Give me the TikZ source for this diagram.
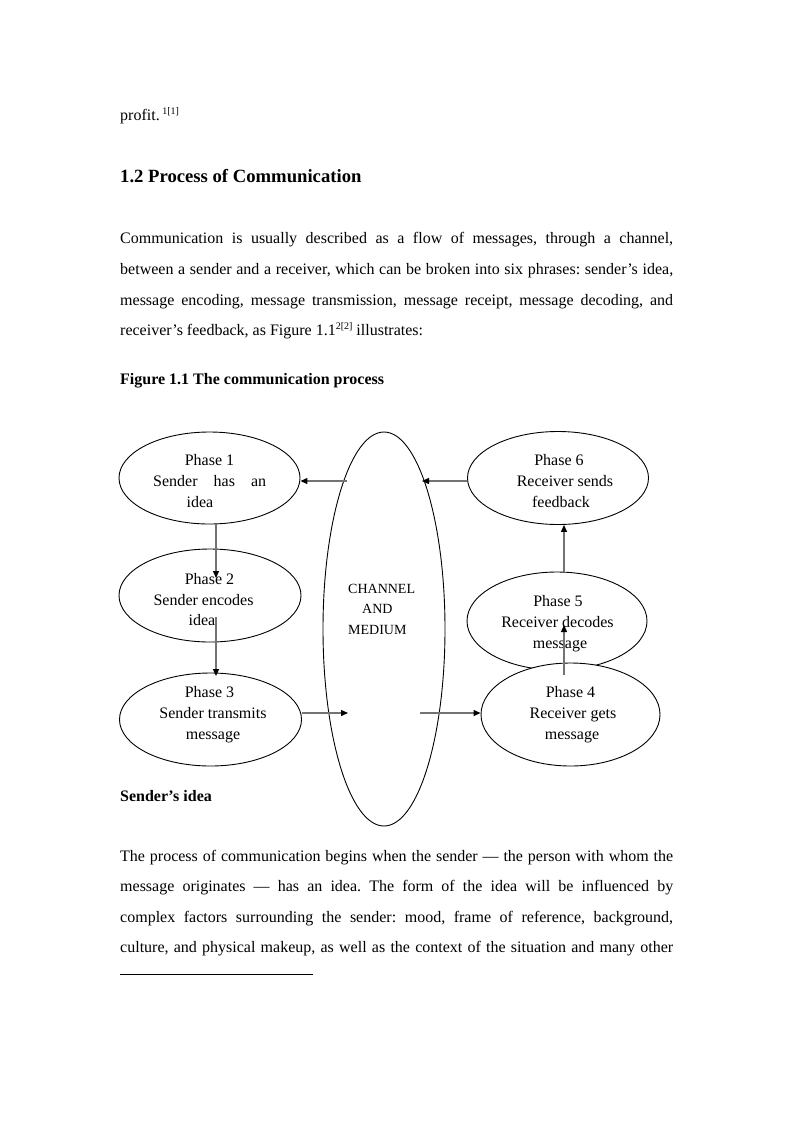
\documentclass[tikz,border=0pt]{standalone}
\usepackage{fontspec}
\setmainfont{Liberation Serif}
\usetikzlibrary{shapes.geometric,arrows.meta}
\newcommand{\jline}[1]{\makebox[553pt][s]{#1}}
\newcommand{\supsm}[1]{\raisebox{6pt}{\fontsize{10}{10}\selectfont #1}}
\begin{document}
\frenchspacing
\begin{tikzpicture}[x=1pt,y=-1pt,
  phase/.style={ellipse,draw=black,line width=0.9pt,inner sep=0pt,fill=white},
  lbl/.style={inner sep=0pt,anchor=base,font=\fontsize{16}{19}\selectfont},
  chl/.style={inner sep=0pt,anchor=base west,font=\fontsize{14}{17}\selectfont},
  body/.style={inner sep=0pt,anchor=base west,font=\fontsize{16}{19}\selectfont\frenchspacing},
  head/.style={inner sep=0pt,anchor=base west,font=\fontsize{18.67}{22}\selectfont\bfseries},
  figcap/.style={inner sep=0pt,anchor=base west,font=\fontsize{16}{19}\selectfont\bfseries},
  conn/.style={draw=black!55,line width=1.3pt,-{Triangle[length=7pt,width=6pt,color=black]}}]
\useasboundingbox[fill=white] (0,0) rectangle (793,1122);

% page text
\node[body] (t0) at (120,120) {profit.\,\supsm{1[1]}};
\node[head] (h1) at (120,182) {1.2 Process of Communication};
\node[body] (p1a) at (120,243) {\jline{Communication is usually described as a flow of messages, through a channel,}};
\node[body] (p1b) at (120,274) {\jline{between a sender and a receiver, which can be broken into six phrases: sender’s idea,}};
\node[body] (p1c) at (120,305) {\jline{message encoding, message transmission, message receipt, message decoding, and}};
\node[body] (p1d) at (120,335) {receiver’s feedback, as Figure 1.1\supsm{2[2]} illustrates:};
\node[figcap] (fc) at (120,384) {Figure 1.1 The communication process};
\node[figcap] (si) at (120,801) {Sender’s idea};
\node[body] (p2a) at (120,861) {\jline{The process of communication begins when the sender — the person with whom the}};
\node[body] (p2b) at (120,891) {\jline{message originates — has an idea. The form of the idea will be influenced by}};
\node[body] (p2c) at (120,922) {\jline{complex factors surrounding the sender: mood, frame of reference, background,}};
\node[body] (p2d) at (120,952) {\jline{culture, and physical makeup, as well as the context of the situation and many other}};
\draw[line width=0.8pt] (120,974) -- (313,974);

% ellipses
\node[phase,minimum width=181pt,minimum height=92pt] (p1) at (209.5,478) {};
\node[phase,minimum width=182pt,minimum height=93pt] (p2) at (210,595.5) {};
\node[phase,minimum width=182pt,minimum height=93pt] (p3) at (210.5,719.5) {};
\node[phase,minimum width=122pt,minimum height=394pt] (ch) at (384,629) {};
\node[phase,minimum width=181pt,minimum height=93pt] (p6) at (558,478) {};
\node[phase,minimum width=180pt,minimum height=98pt] (p5) at (557,621) {};
\node[phase,minimum width=179pt,minimum height=103pt] (p4) at (570.5,714.5) {};

% phase texts
\node[lbl] (l1a) at (209.5,465) {Phase 1};
\node[lbl,anchor=base west] (l1b) at (153,486) {\makebox[113pt][s]{Sender has an}};
\node[lbl] (l1c) at (200,507) {idea};
\node[lbl] (l2a) at (209.5,584) {Phase 2};
\node[lbl] (l2b) at (203.5,605) {Sender encodes};
\node[lbl] (l2c) at (202,625) {idea};
\node[lbl] (l3a) at (209.5,697) {Phase 3};
\node[lbl] (l3b) at (213,718) {Sender transmits};
\node[lbl] (l3c) at (213,739) {message};
\node[lbl] (l6a) at (559,465) {Phase 6};
\node[lbl] (l6b) at (565,486) {Receiver sends};
\node[lbl] (l6c) at (561,507) {feedback};
\node[lbl] (l5a) at (558,606) {Phase 5};
\node[lbl] (l5b) at (557.5,627) {Receiver decodes};
\node[lbl] (l5c) at (560,648) {message};
\node[lbl] (l4a) at (570.5,697) {Phase 4};
\node[lbl] (l4b) at (573,718) {Receiver gets};
\node[lbl] (l4c) at (572,739) {message};
\node[chl] (c1) at (348,593) {CHANNEL};
\node[chl] (c2) at (362,613) {AND};
\node[chl] (c3) at (348,634) {MEDIUM};

% connectors
\coordinate (ta) at (422,481);
\coordinate (sb) at (347,481);
\coordinate (tc) at (216,578);
\coordinate (sd) at (216,617);
\coordinate (td) at (216,676);
\coordinate (te) at (348,713);
\coordinate (sf) at (420,713);
\coordinate (sg) at (564,675);
\coordinate (tg) at (564,625);
\draw[conn] (p6.west |- ta) -- (ta);
\draw[conn] (sb) -- (p1.east |- sb);
\draw[conn] (tc |- p1.south) -- (tc);
\draw[conn] (sd) -- (td);
\draw[conn] (p3.east |- te) -- (te);
\draw[conn] (sf) -- (p4.west |- sf);
\draw[conn] (sg) -- (tg);
\draw[conn] (p5.north -| tg) -- (p6.south -| tg);
\end{tikzpicture}
\end{document}
